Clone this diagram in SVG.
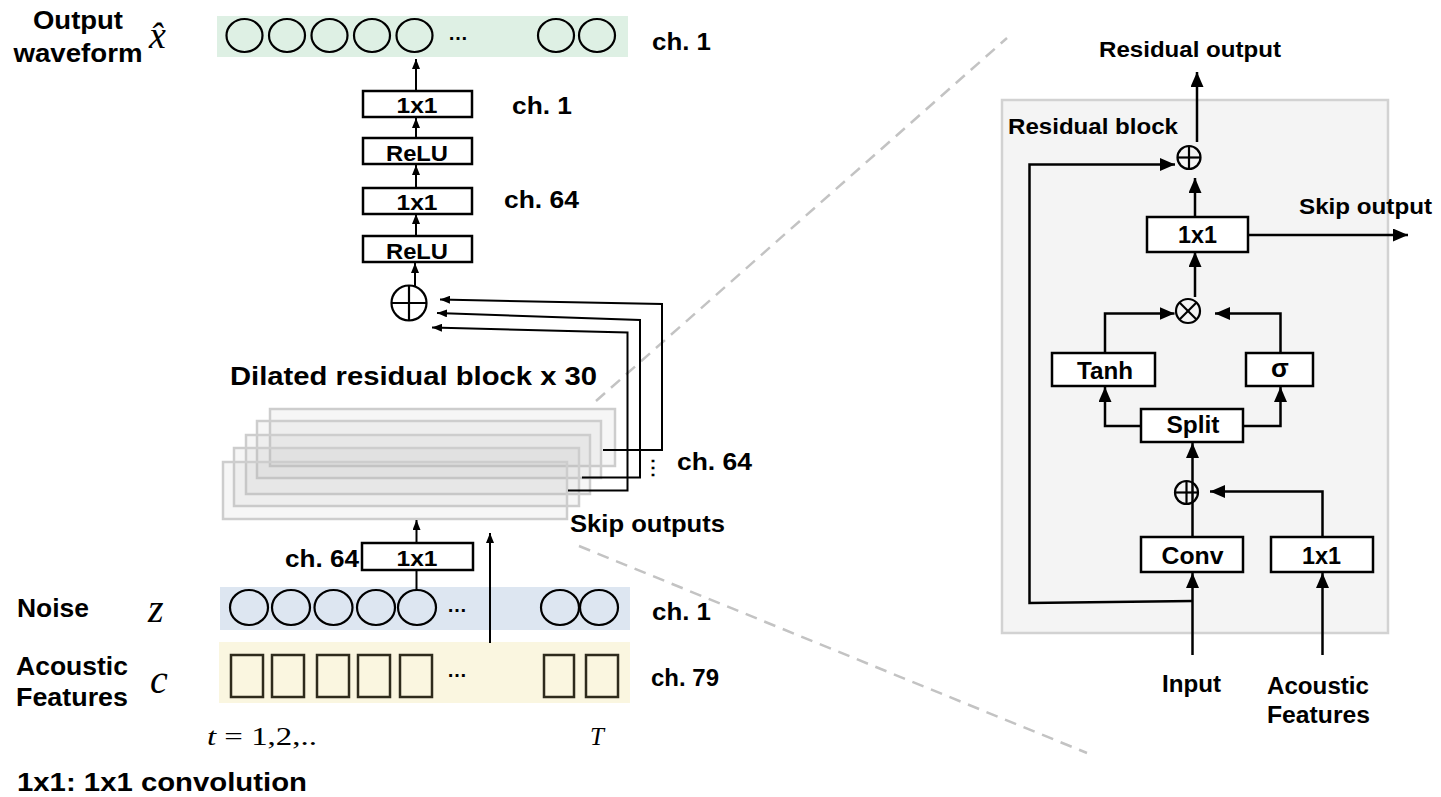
<svg xmlns="http://www.w3.org/2000/svg" width="1441" height="797" viewBox="0 0 1441 797">
  <defs>
    <style>
      .lbl { font-family: "Liberation Sans", Arial, sans-serif; font-weight: 700; fill: #000; }
      .math { font-family: "Liberation Serif", "Times New Roman", serif; font-style: italic; fill: #000; }
      .box { fill: #fff; stroke: #000; stroke-width: 2.5; }
      .ln { fill: none; stroke: #000; stroke-width: 2; }
      .lnR { fill: none; stroke: #000; stroke-width: 2.5; }
      .cell { fill: none; stroke: #000; stroke-width: 2.2; }
      .sq { fill: none; stroke: #2e2b1c; stroke-width: 2.5; }
      .stack { fill: #bcbcbc; fill-opacity: 0.13; stroke: #cdcdcd; stroke-width: 2.5; }
      .dash { fill: none; stroke: #c3c3c3; stroke-width: 2.5; stroke-dasharray: 12 8; }
      .op { fill: none; stroke: #000; stroke-width: 2.2; }
    </style>
    <marker id="arrS" markerUnits="userSpaceOnUse" markerWidth="10" markerHeight="8" refX="10" refY="4" orient="auto">
      <path d="M0,0 L10,4 L0,8 z" fill="#000"/>
    </marker>
    <marker id="arrL" markerUnits="userSpaceOnUse" markerWidth="15" markerHeight="13" refX="15" refY="6.5" orient="auto">
      <path d="M0,0 L15,6.5 L0,13 z" fill="#000"/>
    </marker>
  </defs>

  <rect width="1441" height="797" fill="#fff"/>

  <!-- zoom guide lines -->
  <g id="zoom-guides">
    <line class="dash" x1="596" y1="401" x2="1007" y2="38"/>
    <line class="dash" x1="579" y1="546" x2="1087" y2="753"/>
  </g>

  <!-- output waveform row -->
  <g id="output-row">
    <rect x="217" y="16" width="411" height="41" fill="#def0e4"/>
    <ellipse class="cell" cx="244.5" cy="35.5" rx="18" ry="16.5"/>
    <ellipse class="cell" cx="287" cy="35.5" rx="18" ry="16.5"/>
    <ellipse class="cell" cx="329.5" cy="35.5" rx="18" ry="16.5"/>
    <ellipse class="cell" cx="372" cy="35.5" rx="18" ry="16.5"/>
    <ellipse class="cell" cx="414.5" cy="35.5" rx="18" ry="16.5"/>
    <text class="lbl" x="448" y="40" font-size="20">…</text>
    <ellipse class="cell" cx="556" cy="35.5" rx="18" ry="16.5"/>
    <ellipse class="cell" cx="597" cy="35.5" rx="18" ry="16.5"/>
    <text class="lbl" x="652" y="50" font-size="24" textLength="59" lengthAdjust="spacingAndGlyphs">ch. 1</text>
    <text class="lbl" x="78" y="29" font-size="25" text-anchor="middle" textLength="90" lengthAdjust="spacingAndGlyphs">Output</text>
    <text class="lbl" x="78" y="62" font-size="25" text-anchor="middle" textLength="129" lengthAdjust="spacingAndGlyphs">waveform</text>
    <text class="math" x="149" y="48" font-size="38">x̂</text>
  </g>

  <!-- output head -->
  <g id="head-1x1-out">
    <rect class="box" x="363" y="91" width="109" height="26"/>
    <text class="lbl" x="417" y="113" font-size="22" text-anchor="middle" textLength="41" lengthAdjust="spacingAndGlyphs">1x1</text>
    <text class="lbl" x="512" y="114" font-size="24" textLength="60" lengthAdjust="spacingAndGlyphs">ch. 1</text>
  </g>
  <g id="head-relu-2">
    <rect class="box" x="363" y="138" width="109" height="26"/>
    <text class="lbl" x="417" y="161" font-size="22" text-anchor="middle" textLength="62" lengthAdjust="spacingAndGlyphs">ReLU</text>
  </g>
  <g id="head-1x1-hidden">
    <rect class="box" x="363" y="188" width="109" height="26"/>
    <text class="lbl" x="417" y="210" font-size="22" text-anchor="middle" textLength="41" lengthAdjust="spacingAndGlyphs">1x1</text>
    <text class="lbl" x="504" y="208" font-size="24" textLength="75" lengthAdjust="spacingAndGlyphs">ch. 64</text>
  </g>
  <g id="head-relu-1">
    <rect class="box" x="363" y="236" width="109" height="26"/>
    <text class="lbl" x="417" y="259" font-size="22" text-anchor="middle" textLength="62" lengthAdjust="spacingAndGlyphs">ReLU</text>
  </g>
  <g id="skip-sum">
    <circle class="op" cx="409" cy="303" r="17.5"/>
    <line class="op" x1="391.5" y1="303" x2="426.5" y2="303"/>
    <line class="op" x1="409" y1="285.5" x2="409" y2="320.5"/>
  </g>

  <!-- stacked dilated residual blocks -->
  <g id="residual-stack">
    <text class="lbl" x="230" y="385" font-size="26" textLength="367" lengthAdjust="spacingAndGlyphs">Dilated residual block x 30</text>
    <rect class="stack" x="270" y="409" width="345" height="57"/>
    <rect class="stack" x="257" y="421" width="344" height="57"/>
    <rect class="stack" x="246" y="435" width="344" height="59"/>
    <rect class="stack" x="234" y="448" width="345" height="58"/>
    <rect class="stack" x="223" y="462" width="344" height="57"/>
    <text class="lbl" x="653" y="474" font-size="20" text-anchor="middle" font-family="DejaVu Sans">⋮</text>
    <text class="lbl" x="677" y="470" font-size="24" textLength="75" lengthAdjust="spacingAndGlyphs">ch. 64</text>
    <text class="lbl" x="570" y="532" font-size="24" textLength="155" lengthAdjust="spacingAndGlyphs">Skip outputs</text>
  </g>

  <g id="input-1x1">
    <rect class="box" x="362" y="543" width="111" height="27"/>
    <text class="lbl" x="417" y="566" font-size="22" text-anchor="middle" textLength="41" lengthAdjust="spacingAndGlyphs">1x1</text>
    <text class="lbl" x="285" y="567" font-size="24" textLength="74" lengthAdjust="spacingAndGlyphs">ch. 64</text>
  </g>

  <!-- noise row -->
  <g id="noise-row">
    <rect x="220" y="587" width="410" height="43" fill="#dde6f1"/>
    <ellipse class="cell" cx="249" cy="607.5" rx="19" ry="17.5"/>
    <ellipse class="cell" cx="291" cy="607.5" rx="19" ry="17.5"/>
    <ellipse class="cell" cx="333.5" cy="607.5" rx="19" ry="17.5"/>
    <ellipse class="cell" cx="376" cy="607.5" rx="19" ry="17.5"/>
    <ellipse class="cell" cx="417" cy="607.5" rx="19" ry="17.5"/>
    <text class="lbl" x="447" y="612" font-size="20">…</text>
    <ellipse class="cell" cx="560" cy="607.5" rx="19" ry="17.5"/>
    <ellipse class="cell" cx="599" cy="607.5" rx="19" ry="17.5"/>
    <text class="lbl" x="17" y="617" font-size="25" textLength="72" lengthAdjust="spacingAndGlyphs">Noise</text>
    <text class="math" x="148" y="622" font-size="40">z</text>
    <text class="lbl" x="652" y="620" font-size="24" textLength="59" lengthAdjust="spacingAndGlyphs">ch. 1</text>
  </g>

  <!-- acoustic feature row -->
  <g id="feature-row">
    <rect x="219" y="642" width="411" height="61" fill="#faf6e0"/>
    <rect class="sq" x="231" y="655" width="32" height="42"/>
    <rect class="sq" x="272" y="655" width="32" height="42"/>
    <rect class="sq" x="317" y="655" width="32" height="42"/>
    <rect class="sq" x="358" y="655" width="32" height="42"/>
    <rect class="sq" x="400" y="655" width="32" height="42"/>
    <text class="lbl" x="447" y="677" font-size="20">…</text>
    <rect class="sq" x="544" y="655" width="30" height="42"/>
    <rect class="sq" x="586" y="655" width="32" height="42"/>
    <text class="lbl" x="16" y="675" font-size="25" textLength="112" lengthAdjust="spacingAndGlyphs">Acoustic</text>
    <text class="lbl" x="16" y="706" font-size="25" textLength="112" lengthAdjust="spacingAndGlyphs">Features</text>
    <text class="math" x="150" y="693" font-size="40">c</text>
    <text class="lbl" x="651" y="686" font-size="24" textLength="68" lengthAdjust="spacingAndGlyphs">ch. 79</text>
  </g>

  <g id="time-axis">
    <text class="math" x="207" y="745" font-size="25" textLength="110" lengthAdjust="spacingAndGlyphs">t<tspan font-style="normal"> = 1,2,..</tspan></text>
    <text class="math" x="590" y="745" font-size="25">T</text>
  </g>

  <g id="legend">
    <text class="lbl" x="17" y="791" font-size="26" textLength="290" lengthAdjust="spacingAndGlyphs">1x1: 1x1 convolution</text>
  </g>

  <!-- residual block detail -->
  <g id="block-frame">
    <rect x="1002" y="100" width="386" height="533" fill="#f4f4f4" stroke="#d2d2d2" stroke-width="2.5"/>
    <text class="lbl" x="1008" y="134" font-size="22" textLength="170" lengthAdjust="spacingAndGlyphs">Residual block</text>
    <text class="lbl" x="1099" y="57" font-size="22" textLength="182" lengthAdjust="spacingAndGlyphs">Residual output</text>
    <text class="lbl" x="1299" y="214" font-size="22" textLength="133" lengthAdjust="spacingAndGlyphs">Skip output</text>
    <text class="lbl" x="1162" y="692" font-size="23" textLength="59" lengthAdjust="spacingAndGlyphs">Input</text>
    <text class="lbl" x="1267" y="694" font-size="23" textLength="102" lengthAdjust="spacingAndGlyphs">Acoustic</text>
    <text class="lbl" x="1267" y="723" font-size="23" textLength="103" lengthAdjust="spacingAndGlyphs">Features</text>
  </g>
  <g id="res-sum">
    <circle class="op" cx="1189" cy="157.5" r="11.5"/>
    <line class="op" x1="1177.5" y1="157.5" x2="1200.5" y2="157.5"/>
    <line class="op" x1="1189" y1="146" x2="1189" y2="169"/>
  </g>
  <g id="res-1x1">
    <rect class="box" x="1147" y="217" width="101" height="35"/>
    <text class="lbl" x="1197.5" y="243" font-size="24" text-anchor="middle" textLength="39" lengthAdjust="spacingAndGlyphs">1x1</text>
  </g>
  <g id="res-gate">
    <circle class="op" cx="1188" cy="311" r="12"/>
    <line class="op" x1="1179.5" y1="302.5" x2="1196.5" y2="319.5"/>
    <line class="op" x1="1196.5" y1="302.5" x2="1179.5" y2="319.5"/>
  </g>
  <g id="res-tanh">
    <rect class="box" x="1052" y="353" width="103" height="33"/>
    <text class="lbl" x="1105" y="379" font-size="24" text-anchor="middle" textLength="56" lengthAdjust="spacingAndGlyphs">Tanh</text>
  </g>
  <g id="res-sigma">
    <rect class="box" x="1246" y="353" width="67" height="33"/>
    <text class="lbl" x="1280" y="377" font-size="26" text-anchor="middle">σ</text>
  </g>
  <g id="res-split">
    <rect class="box" x="1141" y="409" width="102" height="33"/>
    <text class="lbl" x="1193" y="433" font-size="24" text-anchor="middle" textLength="53" lengthAdjust="spacingAndGlyphs">Split</text>
  </g>
  <g id="res-cond-sum">
    <circle class="op" cx="1186.5" cy="492.5" r="11.5"/>
    <line class="op" x1="1175" y1="492.5" x2="1198" y2="492.5"/>
    <line class="op" x1="1186.5" y1="481" x2="1186.5" y2="504"/>
  </g>
  <g id="res-conv">
    <rect class="box" x="1141" y="537" width="102" height="35"/>
    <text class="lbl" x="1192.5" y="564" font-size="24" text-anchor="middle" textLength="62" lengthAdjust="spacingAndGlyphs">Conv</text>
  </g>
  <g id="res-cond-1x1">
    <rect class="box" x="1271" y="537" width="102" height="35"/>
    <text class="lbl" x="1321.5" y="564" font-size="24" text-anchor="middle" textLength="39" lengthAdjust="spacingAndGlyphs">1x1</text>
  </g>

  <!-- connectors -->
  <g id="connectors">
    <!-- output head -->
    <line class="ln" x1="416" y1="91" x2="416" y2="59" marker-end="url(#arrS)"/>
    <line class="ln" x1="416" y1="138" x2="416" y2="118" marker-end="url(#arrS)"/>
    <line class="ln" x1="416" y1="188" x2="416" y2="165" marker-end="url(#arrS)"/>
    <line class="ln" x1="416" y1="236" x2="416" y2="214" marker-end="url(#arrS)"/>
    <line class="ln" x1="415" y1="286" x2="415" y2="263" marker-end="url(#arrS)"/>
    <!-- skip outputs into the sum -->
    <polyline class="ln" points="603,450 662,450 662,304 440,299.5" marker-end="url(#arrS)"/>
    <polyline class="ln" points="582,477.5 640,477.5 640,320 437,313" marker-end="url(#arrS)"/>
    <polyline class="ln" points="568,490.5 627.5,490.5 627.5,332.5 432,327.5" marker-end="url(#arrS)"/>
    <!-- inputs -->
    <line class="ln" x1="416.5" y1="543" x2="416.5" y2="520" marker-end="url(#arrS)"/>
    <line class="ln" x1="416.5" y1="590" x2="416.5" y2="570"/>
    <line class="ln" x1="490" y1="643" x2="490" y2="533" marker-end="url(#arrS)"/>

    <!-- residual block internals -->
    <line class="lnR" x1="1197" y1="142" x2="1197" y2="72" marker-end="url(#arrL)"/>
    <polyline class="lnR" points="1192.5,601 1029.5,603 1029.5,164.5 1175,164.5" marker-end="url(#arrL)"/>
    <line class="lnR" x1="1192.5" y1="655" x2="1192.5" y2="573" marker-end="url(#arrL)"/>
    <line class="lnR" x1="1192.5" y1="537" x2="1192.5" y2="443" marker-end="url(#arrL)"/>
    <line class="lnR" x1="1322.5" y1="655" x2="1322.5" y2="573" marker-end="url(#arrL)"/>
    <polyline class="lnR" points="1322.5,537 1322.5,491.5 1210,491.5" marker-end="url(#arrL)"/>
    <polyline class="lnR" points="1141,426 1105,426 1105,387" marker-end="url(#arrL)"/>
    <polyline class="lnR" points="1243,426 1280.5,426 1280.5,387" marker-end="url(#arrL)"/>
    <polyline class="lnR" points="1105,353 1105,313.5 1174.5,313.5" marker-end="url(#arrL)"/>
    <polyline class="lnR" points="1280.5,353 1280.5,313.5 1215,313.5" marker-end="url(#arrL)"/>
    <line class="lnR" x1="1195" y1="297" x2="1195" y2="252" marker-end="url(#arrL)"/>
    <line class="lnR" x1="1195" y1="217" x2="1195" y2="178" marker-end="url(#arrL)"/>
    <line class="lnR" x1="1248" y1="235" x2="1408" y2="235" marker-end="url(#arrL)"/>
  </g>
</svg>
